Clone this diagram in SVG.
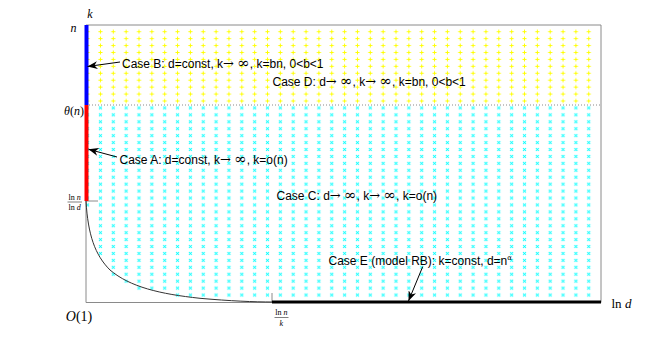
<svg xmlns="http://www.w3.org/2000/svg" width="664" height="340" viewBox="0 0 664 340">
<style>
.frame{stroke:#8a8a8a;stroke-width:1;fill:none}
.case{font-family:"Liberation Sans",Arial,sans-serif;font-size:12px;fill:#000}
.ar{font-family:"DejaVu Serif","Liberation Serif",serif;font-size:13px}
.inf{font-family:"DejaVu Serif","Liberation Serif",serif;font-size:15px}
.sup{font-family:"DejaVu Serif","Liberation Serif",serif;font-size:7px}
.math{font-family:"Liberation Serif","DejaVu Serif",serif;fill:#000}
.it{font-style:italic}
.conn{stroke:#000;stroke-width:1;fill:none;marker-end:url(#ah)}
</style>
<defs>
<pattern id="plus" patternUnits="userSpaceOnUse" x="81.175" y="28.235" width="12.85" height="6.93">
<path d="M4.4,3.465 h4.05 M6.425,1.44 v4.05" stroke="#ffff00" stroke-width="1" fill="none"/>
</pattern>
<pattern id="cross" patternUnits="userSpaceOnUse" x="81.175" y="28.235" width="12.85" height="6.93">
<path d="M4.925,1.965 l3,3 M7.925,1.965 l-3,3" stroke="#00ffff" stroke-width="1" fill="none"/>
</pattern>
<marker id="ah" markerUnits="userSpaceOnUse" markerWidth="10" markerHeight="8" viewBox="0 0 10 8" refX="10" refY="4" orient="auto">
<path d="M0,0 L10,4 L0,8 L3,4 z" fill="#000"/>
</marker>
</defs>
<rect width="664" height="340" fill="#fff"/>
<g id="region-yellow">
<rect x="81.175" y="28.235" width="514" height="76.23" fill="url(#plus)"/>
</g>
<g id="region-cyan">
<rect x="81.175" y="104.465" width="12.85" height="103.95" fill="url(#cross)"/>
<rect x="94.025" y="104.465" width="12.85" height="152.46" fill="url(#cross)"/>
<rect x="106.875" y="104.465" width="12.85" height="173.25" fill="url(#cross)"/>
<rect x="119.725" y="104.465" width="12.85" height="180.18" fill="url(#cross)"/>
<rect x="132.575" y="104.465" width="38.55" height="187.11" fill="url(#cross)"/>
<rect x="171.125" y="104.465" width="424.05" height="194.04" fill="url(#cross)"/>
</g>
<g id="axes">
<line x1="86" y1="105" x2="601" y2="105" stroke="#8a8a8a" stroke-width="1" stroke-dasharray="1,2"/>
<path class="frame" d="M86,25 H601 V302.5 M86,25 V302.5 H272"/>
<line class="frame" x1="86" y1="201" x2="98" y2="201"/>
<line class="frame" x1="272" y1="293" x2="272" y2="302"/>
</g>
<g id="curve">
<path d="M86,201 C88,235 95,255 110,270 C130,287 160,294 200,298.3 C230,301 255,302 272,302" stroke="#333" stroke-width="1" fill="none"/>
</g>
<g id="caseB-bar"><line x1="86.5" y1="25" x2="86.5" y2="105" stroke="#0000ff" stroke-width="4"/></g>
<g id="caseA-bar"><line x1="86.5" y1="105" x2="86.5" y2="201" stroke="#ff0000" stroke-width="4"/></g>
<g id="caseE-bar"><line x1="272" y1="302" x2="601" y2="302" stroke="#000" stroke-width="3"/></g>
<g id="axis-labels">
<text class="math it" x="90" y="18" font-size="12" text-anchor="middle">k</text>
<text class="math it" x="73.5" y="32" font-size="12" text-anchor="middle">n</text>
<text class="math" x="74" y="115" font-size="12" text-anchor="middle"><tspan class="it">θ</tspan>(<tspan class="it">n</tspan>)</text>
<text class="math" x="74.7" y="200" font-size="8" text-anchor="middle">ln <tspan class="it">n</tspan></text>
<line x1="67.5" y1="202" x2="82" y2="202" stroke="#000" stroke-width="0.5"/>
<text class="math" x="74.7" y="209.5" font-size="8" text-anchor="middle">ln <tspan class="it">d</tspan></text>
<text class="math" x="79" y="321" font-size="14" text-anchor="middle"><tspan class="it">O</tspan>(1)</text>
<text class="math" x="281.3" y="315" font-size="8" text-anchor="middle">ln <tspan class="it">n</tspan></text>
<line x1="274.5" y1="317.5" x2="288.5" y2="317.5" stroke="#000" stroke-width="0.5"/>
<text class="math it" x="281.3" y="325.5" font-size="8" text-anchor="middle">k</text>
<text class="math" x="611.5" y="308" font-size="13">ln <tspan class="it">d</tspan></text>
</g>
<g id="caseB"><text class="case" x="122" y="68">Case B: d=const, k<tspan class="ar">→</tspan> <tspan class="inf">∞</tspan>, k=bn, 0&lt;b&lt;1</text></g>
<g id="caseD"><text class="case" x="272.5" y="86">Case D: d<tspan class="ar">→</tspan> <tspan class="inf">∞</tspan>, k<tspan class="ar">→</tspan> <tspan class="inf">∞</tspan>, k=bn, 0&lt;b&lt;1</text></g>
<g id="caseA"><text class="case" x="119.5" y="164">Case A: d=const, k<tspan class="ar">→</tspan> <tspan class="inf">∞</tspan>, k=o(n)</text></g>
<g id="caseC"><text class="case" x="276.5" y="200">Case C: d<tspan class="ar">→</tspan> <tspan class="inf">∞</tspan>, k<tspan class="ar">→</tspan> <tspan class="inf">∞</tspan>, k=o(n)</text></g>
<g id="caseE"><text class="case" x="328.5" y="265">Case E (model RB): k=const, d=n<tspan class="sup" dy="-5">α</tspan></text></g>
<g id="connectors">
<line class="conn" x1="120" y1="62" x2="87.5" y2="66.5"/>
<line class="conn" x1="117" y1="157" x2="88.5" y2="149.3"/>
<line class="conn" x1="422.7" y1="266.7" x2="408.5" y2="301"/>
</g>
</svg>
